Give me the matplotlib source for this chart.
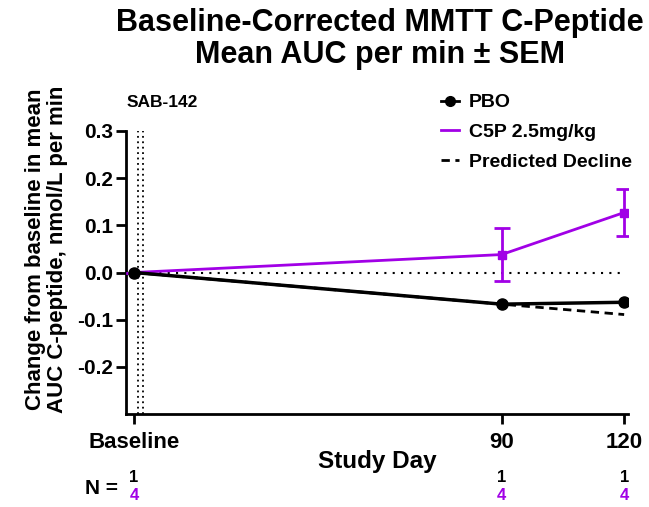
import matplotlib
matplotlib.use("Agg")
import matplotlib.pyplot as plt
import matplotlib.transforms as mtransforms
from matplotlib.lines import Line2D

plt.rcParams['font.family'] = ['Liberation Sans', 'DejaVu Sans']
plt.rcParams['font.weight'] = 'bold'

days = [0, 90, 120]
tick_labels = ["Baseline", "90", "120"]
pbo = [0.0, -0.067, -0.063]
c5p = [0.0, 0.038, 0.127]
c5p_sem = [0.0, 0.057, 0.049]
predicted = [0.0, -0.067, -0.089]
n_pbo = ["1", "1", "1"]
n_c5p = ["4", "4", "4"]

purple = '#A100E6'

fig = plt.figure(figsize=(6.49, 5.07), dpi=100)
ax = fig.add_axes([0.194, 0.183, 0.774, 0.559])

ax.axhline(0, color='black', lw=1.5, ls=(0, (1, 3)), xmax=0.985, zorder=1)
for xv in (1.0, 2.2):
    ax.axvline(xv, color='black', lw=1.3, ls=(0, (1, 2)), zorder=1)

ax.plot(days, predicted, color='black', lw=2, ls=(0, (3, 2)), zorder=2)
ax.plot(days, pbo, color='black', lw=2.5, marker='o', ms=8, zorder=4)
ax.errorbar(days, c5p, yerr=c5p_sem, color=purple, lw=2, marker='s', ms=6,
            capsize=6, capthick=2, elinewidth=2, zorder=3)

ax.set_xlim(-2, 121)
ax.set_ylim(-0.3, 0.3)
ax.set_yticks([-0.2, -0.1, 0.0, 0.1, 0.2, 0.3])
ax.set_yticklabels(["-0.2", "-0.1", "0.0", "0.1", "0.2", "0.3"])
ax.set_xticks(days)
ax.set_xticklabels(tick_labels)
for s in ('top', 'right'):
    ax.spines[s].set_visible(False)
for s in ('left', 'bottom'):
    ax.spines[s].set_linewidth(2)
ax.tick_params(axis='y', width=2, length=7, labelsize=15, pad=2)
ax.tick_params(axis='x', width=2, length=7, labelsize=16, pad=6)
for lab in ax.get_xticklabels() + ax.get_yticklabels():
    lab.set_fontweight('bold')

ax.set_xlabel("Study Day", fontsize=17.5, fontweight='bold', labelpad=-2)
ax.set_ylabel("Change from baseline in mean\nAUC C-peptide, nmol/L per min",
              fontsize=16, fontweight='bold', linespacing=1.05)
ax.yaxis.set_label_coords(-0.115, 0.583)

fig.suptitle("Baseline-Corrected MMTT C-Peptide\nMean AUC per min \u00b1 SEM",
             x=0.585, y=0.985, fontsize=22, fontweight='bold', linespacing=1.1)

ax.text(7, 1.1, "SAB-142", transform=mtransforms.blended_transform_factory(ax.transData, ax.transAxes),
        ha='center', va='center', fontsize=12.5, fontweight='bold')

trans = mtransforms.blended_transform_factory(ax.transData, fig.transFigure)
for d, a, b in zip(days, n_pbo, n_c5p):
    ax.text(d, 1 - 478 / 507, a, transform=trans, ha='center', va='center',
            fontsize=12, fontweight='bold', color='black')
    ax.text(d, 1 - 496 / 507, b, transform=trans, ha='center', va='center',
            fontsize=12, fontweight='bold', color=purple)
fig.text(85 / 649, 1 - 489 / 507, "N =", ha='left', va='center', fontsize=15, fontweight='bold')

handles = [Line2D([], [], color='black', lw=2, marker='o', ms=7),
           Line2D([], [], color=purple, lw=2),
           Line2D([], [], color='black', lw=2, ls=(0, (3, 2)))]
labels = ["PBO", "C5P 2.5mg/kg", "Predicted Decline"]
fig.legend(handles, labels, loc='upper left', bbox_to_anchor=(433 / 649, 1 - 86 / 507),
           frameon=False, prop={'weight': 'bold', 'size': 14}, handlelength=0.95,
           handletextpad=0.5, labelspacing=0.62, borderaxespad=0)

fig.savefig("out.png", dpi=100)
